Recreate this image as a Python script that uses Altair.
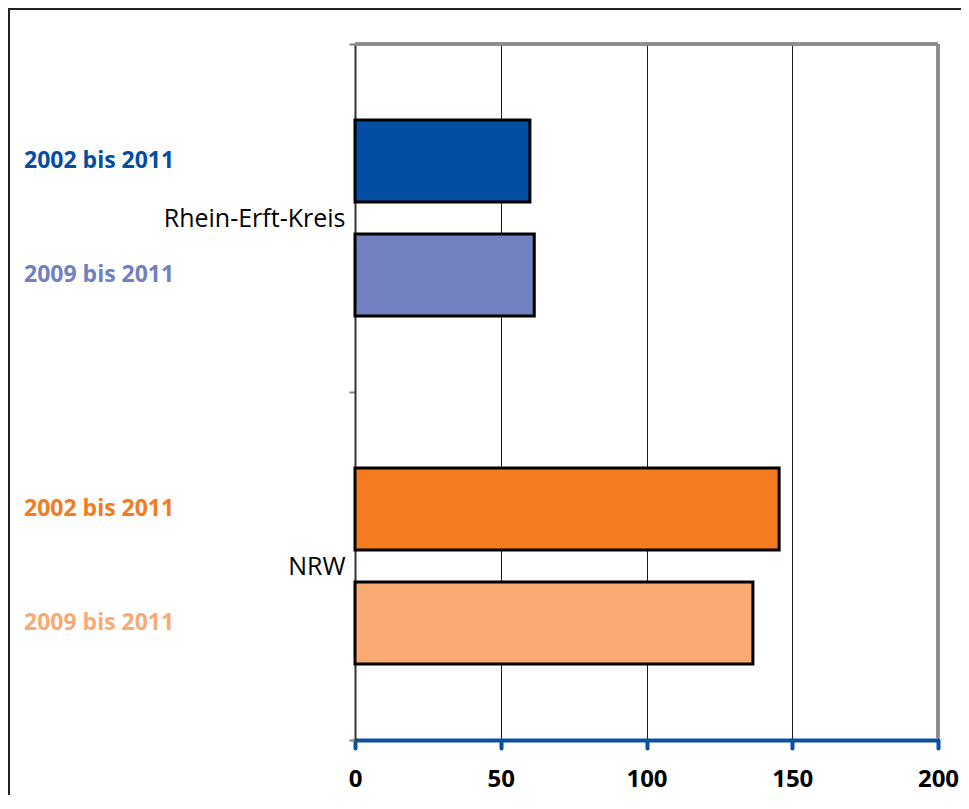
import altair as alt
import pandas as pd

categories = ["Rhein-Erft-Kreis", "Rhein-Erft-Kreis", "NRW", "NRW"]
periods = ["2002 bis 2011", "2009 bis 2011", "2002 bis 2011", "2009 bis 2011"]
values = [60.0, 61.5, 145.5, 136.5]
colors = ["#034EA2", "#7080C0", "#F47B20", "#F9AA72"]
category_order = ["Rhein-Erft-Kreis", "NRW"]
period_order = ["2002 bis 2011", "2009 bis 2011"]
x_ticks = [0, 50, 100, 150, 200]

keys = [c + "|" + p for c, p in zip(categories, periods)]
df = pd.DataFrame({"cat": categories, "period": periods, "value": values, "key": keys})

W, H = 583, 696
FONT = "Open Sans"

y_enc = alt.Y("cat:N", sort=category_order,
              scale=alt.Scale(domain=category_order, paddingInner=0, paddingOuter=0),
              axis=alt.Axis(title=None, tickBand="extent", domainColor="#333333", domainWidth=2,
                            tickColor="#808080", tickWidth=2, tickSize=6,
                            labelFont=FONT, labelFontSize=25, labelColor="black",
                            labelPadding=4, labelLimit=320, grid=False))
yoff_enc = alt.YOffset("period:N", sort=period_order,
                       scale=alt.Scale(domain=period_order, paddingInner=0.2807, paddingOuter=0.6667))
color_enc = alt.Color("key:N", scale=alt.Scale(domain=keys, range=colors), legend=None)

x_enc = alt.X("value:Q", scale=alt.Scale(domain=[0, 200], nice=False, zero=True),
              axis=alt.Axis(title=None, values=x_ticks, grid=True, gridColor="#1a1a1a", gridWidth=1,
                            domainColor="#0B50A0", domainWidth=4, tickColor="#0B50A0",
                            tickWidth=4, tickSize=8, tickCap="round",
                            labelFont=FONT, labelFontSize=24, labelFontWeight="bold",
                            labelColor="black", labelPadding=19, labelFlush=False))

base = alt.Chart(df)

border = base.mark_rect(fill=None, stroke="#222222", strokeWidth=2).encode(
    x=alt.value(-346), x2=alt.value(W + 200), y=alt.value(-35), y2=alt.value(H + 200)
)

bars = base.mark_bar(stroke="black", strokeWidth=3).encode(
    x=x_enc, y=y_enc, yOffset=yoff_enc, color=color_enc
)

labels = base.mark_text(align="left", baseline="middle", font=FONT, fontSize=23,
                        fontWeight="bold").encode(
    x=alt.value(-331), y=y_enc, yOffset=yoff_enc, text="period:N", color=color_enc
)

top_rule = base.mark_rule(color="#8c8c8c", strokeWidth=3).encode(
    x=alt.datum(0), x2=alt.datum(200), y=alt.value(0)
)
right_rule = base.mark_rule(color="#8c8c8c", strokeWidth=3).encode(
    x=alt.datum(200), y=alt.value(0), y2=alt.value(H - 2)
)

chart = alt.layer(border, bars, labels, top_rule, right_rule).properties(
    width=W, height=H,
    autosize=alt.AutoSizeParams(type="none"),
    padding={"left": 347, "top": 36, "right": 23, "bottom": 55},
    background="white",
).configure_view(stroke=None)

chart.save("out.html", embed_options={"renderer": "svg", "actions": False})
